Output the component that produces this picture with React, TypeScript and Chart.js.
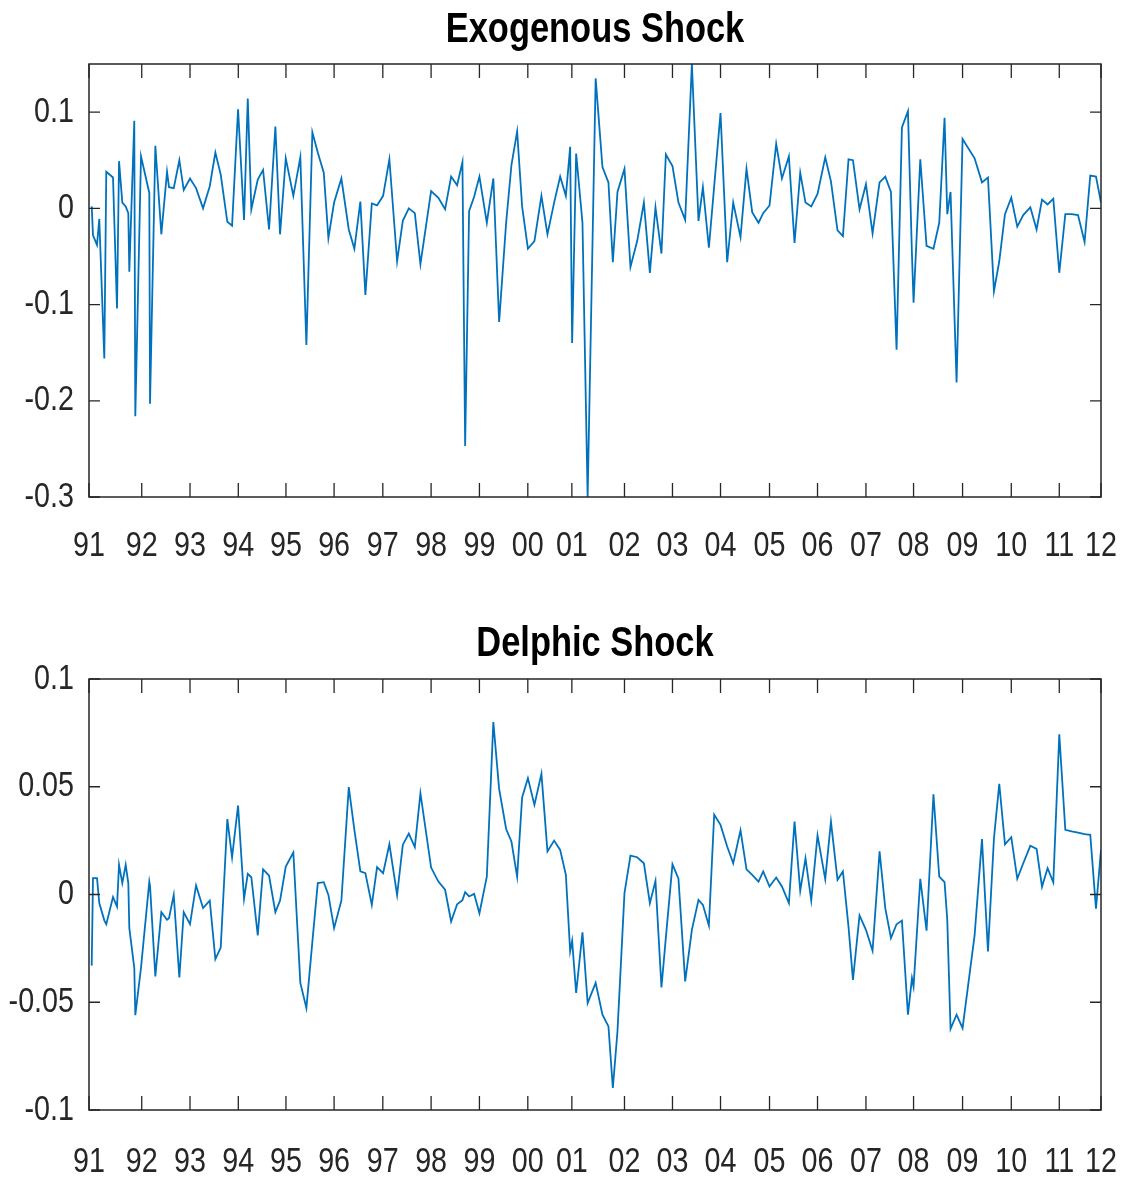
import React, { useEffect, useRef } from "react";
import { Chart, registerables } from "chart.js";

Chart.register(...registerables);

// FOMC announcement dates (decimal years) shared by both panels
const dates = [
  1991.056, 1991.083, 1991.166, 1991.213, 1991.317, 1991.358, 1991.497, 1991.580, 1991.622, 1991.690,
  1991.760, 1991.814, 1991.835, 1991.938, 1991.959, 1992.077, 1992.249, 1992.264, 1992.374, 1992.498,
  1992.616, 1992.657, 1992.755, 1992.871, 1992.962, 1993.092, 1993.217, 1993.362, 1993.501, 1993.617,
  1993.728, 1993.865, 1993.963, 1994.087, 1994.211, 1994.288, 1994.362, 1994.495, 1994.605, 1994.729,
  1994.860, 1994.957, 1995.075, 1995.232, 1995.377, 1995.502, 1995.626, 1995.738, 1995.862, 1995.958,
  1996.076, 1996.227, 1996.380, 1996.496, 1996.620, 1996.724, 1996.857, 1996.966, 1997.091, 1997.221,
  1997.381, 1997.499, 1997.623, 1997.748, 1997.864, 1998.085, 1998.236, 1998.375, 1998.500, 1998.624,
  1998.734, 1998.790, 1998.872, 1998.976, 1999.086, 1999.239, 1999.374, 1999.494, 1999.639, 1999.749,
  1999.867, 1999.970, 2000.090, 2000.225, 2000.370, 2000.495, 2000.633, 2000.758, 2000.876, 2000.965,
  2001.006, 2001.089, 2001.220, 2001.327, 2001.493, 2001.634, 2001.758, 2001.849, 2001.945, 2002.090,
  2002.214, 2002.353, 2002.492, 2002.616, 2002.732, 2002.856, 2002.947, 2003.084, 2003.208, 2003.347,
  2003.486, 2003.623, 2003.714, 2003.838, 2003.948, 2004.079, 2004.217, 2004.342, 2004.493, 2004.617,
  2004.735, 2004.866, 2004.963, 2005.094, 2005.232, 2005.351, 2005.495, 2005.612, 2005.730, 2005.839,
  2005.958, 2006.088, 2006.248, 2006.366, 2006.502, 2006.614, 2006.730, 2006.822, 2006.958, 2007.091,
  2007.228, 2007.373, 2007.491, 2007.609, 2007.725, 2007.836, 2007.961, 2008.044, 2008.077, 2008.216,
  2008.346, 2008.489, 2008.609, 2008.719, 2008.775, 2008.843, 2008.968, 2009.092, 2009.341, 2009.494,
  2009.618, 2009.742, 2009.852, 2009.970, 2010.101, 2010.225, 2010.349, 2010.495, 2010.625, 2010.737,
  2010.853, 2010.971, 2011.095, 2011.220, 2011.350, 2011.483, 2011.619, 2011.737, 2011.855, 2011.959,
];

const exogenous = [
  0.002, -0.028, -0.038, -0.011, -0.156, 0.038, 0.032, -0.104, 0.049, 0.006,
  0.002, -0.005, -0.066, 0.091, -0.216, 0.054, 0.016, -0.203, 0.065, -0.027,
  0.038, 0.022, 0.021, 0.05, 0.019, 0.031, 0.021, 0.0, 0.023, 0.058,
  0.035, -0.014, -0.018, 0.103, -0.012, 0.114, -0.001, 0.03, 0.04, -0.022,
  0.085, -0.027, 0.052, 0.013, 0.053, -0.142, 0.079, 0.058, 0.037, -0.031,
  0.006, 0.031, -0.022, -0.042, 0.007, -0.09, 0.005, 0.003, 0.013, 0.051,
  -0.055, -0.013, 0.0, -0.005, -0.058, 0.018, 0.011, -0.001, 0.033, 0.024,
  0.048, -0.247, -0.003, 0.012, 0.033, -0.015, 0.031, -0.118, -0.015, 0.045,
  0.08, 0.002, -0.042, -0.034, 0.013, -0.027, 0.006, 0.033, 0.013, 0.064,
  -0.14, 0.057, -0.015, -0.3, 0.135, 0.043, 0.027, -0.056, 0.017, 0.041,
  -0.061, -0.034, 0.006, -0.067, 0.001, -0.047, 0.056, 0.044, 0.006, -0.012,
  0.15, -0.013, 0.022, -0.041, 0.023, 0.099, -0.056, 0.006, -0.03, 0.041,
  -0.004, -0.015, -0.005, 0.003, 0.067, 0.031, 0.054, -0.036, 0.037, 0.006,
  0.002, 0.015, 0.053, 0.028, -0.023, -0.029, 0.051, 0.05, -0.001, 0.025,
  -0.026, 0.027, 0.033, 0.017, -0.147, 0.084, 0.101, -0.048, -0.098, 0.051,
  -0.039, -0.042, -0.015, 0.094, -0.006, 0.017, -0.181, 0.072, 0.052, 0.027,
  0.032, -0.086, -0.055, -0.006, 0.011, -0.019, -0.007, 0.001, -0.022, 0.009,
  0.004, 0.01, -0.067, -0.006, -0.006, -0.007, -0.035, 0.034, 0.033, 0.006,
];

const delphic = [
  -0.033, 0.0076, 0.0076, -0.004, -0.012, -0.0138, -0.0012, -0.0056, 0.0138, 0.0053,
  0.0138, 0.0053, -0.0156, -0.034, -0.056, -0.034, 0.006, 0.004, -0.038, -0.0082,
  -0.0117, -0.011, -0.0002, -0.0385, -0.0082, -0.0138, 0.0042, -0.0063, -0.0028, -0.03,
  -0.0246, 0.035, 0.0172, 0.0413, -0.002, 0.0096, 0.008, -0.019, 0.0117, 0.0087,
  -0.0082, -0.0028, 0.013, 0.0195, -0.041, -0.0527, -0.022, 0.0053, 0.0057, -0.0002,
  -0.0156, -0.0028, 0.0498, 0.03, 0.0107, 0.0099, -0.0048, 0.0127, 0.0099, 0.0233,
  -0.0002, 0.023, 0.0283, 0.022, 0.047, 0.0125, 0.006, 0.0022, -0.0125, -0.0045,
  -0.0026, 0.0011, -0.0009, 0.0003, -0.0087, 0.0083, 0.08, 0.049, 0.0304, 0.0246,
  0.0083, 0.045, 0.054, 0.0416, 0.056, 0.02, 0.025, 0.0207, 0.0091, -0.0264,
  -0.0215, -0.0457, -0.0176, -0.0504, -0.041, -0.0558, -0.0612, -0.0898, -0.0635, 0.0006,
  0.018, 0.0173, 0.0145, -0.004, 0.0063, -0.0431, -0.02, 0.014, 0.0073, -0.0403,
  -0.0164, -0.0025, -0.0048, -0.0144, 0.037, 0.0323, 0.0223, 0.0145, 0.0298, 0.0117,
  0.0091, 0.006, 0.0107, 0.0037, 0.0079, 0.0037, -0.004, 0.0338, 0.0017, 0.0168,
  -0.0028, 0.0274, 0.0071, 0.0338, 0.0068, 0.0107, -0.015, -0.0396, -0.0097, -0.0164,
  -0.0261, 0.02, -0.0063, -0.0202, -0.0138, -0.0121, -0.0558, -0.0388, -0.0427, 0.0073,
  -0.0168, 0.0465, 0.0083, 0.0057, -0.0117, -0.0624, -0.0558, -0.062, -0.019, 0.0257,
  -0.0264, 0.0261, 0.0513, 0.0233, 0.0266, 0.0073, 0.0145, 0.0226, 0.0212, 0.0036,
  0.0122, 0.0057, 0.0743, 0.03, 0.0293, 0.0287, 0.028, 0.0277, -0.0066, 0.0207,
];

// x ticks: first meeting of each year, plus the axis ends
const xTickPositions = [
  1991.0, 1992.092, 1993.092, 1994.092, 1995.079, 1996.076, 1997.085, 1998.085, 1999.086, 2000.088,
  2001.0, 2002.09, 2003.084, 2004.079, 2005.094, 2006.088, 2007.091, 2008.077, 2009.092, 2010.101,
  2011.095, 2011.959,
];
const xTickLabels = [
  "91", "92", "93", "94", "95", "96", "97", "98", "99", "00",
  "01", "02", "03", "04", "05", "06", "07", "08", "09", "10",
  "11", "12",
];
const xMin = 1991.0;
const xMax = 2011.959;

const exoTicks = [-0.3, -0.2, -0.1, 0, 0.1];
const exoTickLabels = ["-0.3", "-0.2", "-0.1", "0", "0.1"];
const delTicks = [-0.1, -0.05, 0, 0.05, 0.1];
const delTickLabels = ["-0.1", "-0.05", "0", "0.05", "0.1"];

const FAMILY = "'Liberation Sans', Arial, sans-serif";
const NARROW = 0.82; // horizontal condensing to mimic a narrow face
const AXIS_COLOR = "#262626";
const LINE_COLOR = "#0072BD";

function narrowText(ctx: any, text: string, x: number, y: number, align: string) {
  ctx.save();
  ctx.translate(x, y);
  ctx.scale(NARROW, 1);
  ctx.textAlign = align;
  ctx.fillText(text, 0, 0);
  ctx.restore();
}

const framePlugin = {
  id: "frame",
  afterDraw(chart: any, _args: any, opts: any) {
    const { ctx, chartArea: a, scales } = chart;
    ctx.save();
    ctx.strokeStyle = AXIS_COLOR;
    ctx.lineWidth = 1.5;
    ctx.strokeRect(a.left, a.top, a.right - a.left, a.bottom - a.top);
    ctx.lineWidth = 1.3;
    ctx.beginPath();
    scales.x.ticks.forEach((t: any) => {
      const x = scales.x.getPixelForValue(t.value);
      ctx.moveTo(x, a.bottom);
      ctx.lineTo(x, a.bottom - 14);
      ctx.moveTo(x, a.top);
      ctx.lineTo(x, a.top + 14);
    });
    scales.y.ticks.forEach((t: any) => {
      const y = scales.y.getPixelForValue(t.value);
      ctx.moveTo(a.left, y);
      ctx.lineTo(a.left + 11, y);
      ctx.moveTo(a.right, y);
      ctx.lineTo(a.right - 11, y);
    });
    ctx.stroke();

    // tick labels
    ctx.fillStyle = AXIS_COLOR;
    ctx.font = `35px ${FAMILY}`;
    ctx.textBaseline = "middle";
    scales.x.ticks.forEach((t: any, i: number) => {
      const x = scales.x.getPixelForValue(t.value);
      narrowText(ctx, xTickLabels[i], x, a.bottom + opts.xLabelOffset, "center");
    });
    scales.y.ticks.forEach((t: any, i: number) => {
      const y = scales.y.getPixelForValue(t.value);
      narrowText(ctx, opts.yLabels[i], a.left - 15, y, "right");
    });

    // title
    ctx.fillStyle = "#000";
    ctx.font = `bold 42px ${FAMILY}`;
    narrowText(ctx, opts.text, (a.left + a.right) / 2, a.top + opts.titleOffset, "center");
    ctx.restore();
  },
};

function makeConfig(
  title: string,
  values: number[],
  yMin: number,
  yMax: number,
  yTicks: number[],
  yLabels: string[],
  padTop: number,
  xAxisHeight: number,
  titleOffset: number,
  xLabelOffset: number
): any {
  return {
    type: "line",
    data: {
      datasets: [
        {
          data: dates.map((d, i) => ({ x: d, y: values[i] })),
          borderColor: LINE_COLOR,
          borderWidth: 1.8,
          pointRadius: 0,
          tension: 0,
          fill: false,
        },
      ],
    },
    options: {
      animation: false,
      responsive: false,
      maintainAspectRatio: false,
      devicePixelRatio: 1,
      layout: { padding: { top: padTop, right: 26, left: 0, bottom: 0 } },
      plugins: {
        legend: { display: false },
        tooltip: { enabled: false },
        title: { display: false },
        frame: { text: title, titleOffset, xLabelOffset, yLabels },
      },
      scales: {
        x: {
          type: "linear",
          min: xMin,
          max: xMax,
          grid: { display: false, drawTicks: false },
          border: { display: false },
          afterBuildTicks: (s: any) => {
            s.ticks = xTickPositions.map((v) => ({ value: v }));
          },
          afterFit: (s: any) => {
            s.height = xAxisHeight;
            s.paddingLeft = 0;
            s.paddingRight = 0;
          },
          ticks: { display: false, autoSkip: false },
        },
        y: {
          type: "linear",
          min: yMin,
          max: yMax,
          grid: { display: false, drawTicks: false },
          border: { display: false },
          afterBuildTicks: (s: any) => {
            s.ticks = yTicks.map((v) => ({ value: v }));
          },
          afterFit: (s: any) => {
            s.width = 89;
            s.paddingTop = 0;
            s.paddingBottom = 0;
          },
          ticks: { display: false },
        },
      },
    },
    plugins: [framePlugin],
  };
}

export default function App() {
  const ref1 = useRef<HTMLCanvasElement>(null);
  const ref2 = useRef<HTMLCanvasElement>(null);

  useEffect(() => {
    const c1 = new Chart(
      ref1.current as HTMLCanvasElement,
      makeConfig("Exogenous Shock", exogenous, -0.3, 0.15, exoTicks, exoTickLabels, 64, 93, -34, 49)
    );
    const c2 = new Chart(
      ref2.current as HTMLCanvasElement,
      makeConfig("Delphic Shock", delphic, -0.1, 0.1, delTicks, delTickLabels, 89, 73, -35, 52)
    );
    return () => {
      c1.destroy();
      c2.destroy();
    };
  }, []);

  return (
    <div style={{ position: "absolute", left: 0, top: 0, width: 1127, height: 1183, background: "#fff" }}>
      <canvas ref={ref1} width={1127} height={590} style={{ position: "absolute", left: 0, top: 0 }} />
      <canvas ref={ref2} width={1127} height={593} style={{ position: "absolute", left: 0, top: 590 }} />
    </div>
  );
}
